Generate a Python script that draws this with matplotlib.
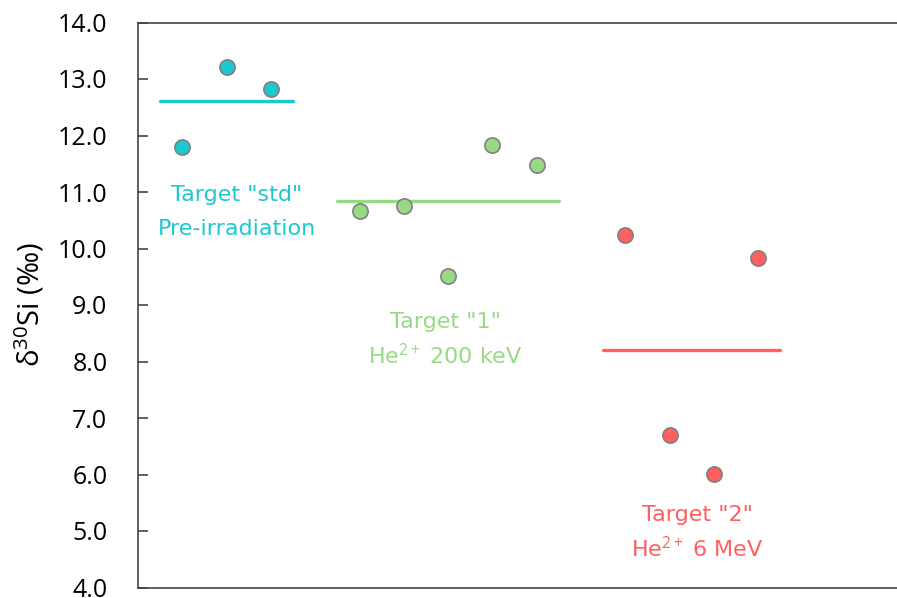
import numpy as np
import matplotlib.pyplot as plt

plt.rcParams["mathtext.fontset"] = "custom"
plt.rcParams["mathtext.rm"] = "Open Sans"
plt.rcParams["mathtext.it"] = "Open Sans:italic"

# delta30Si values per target (permil)
std_vals = [11.80, 13.21, 12.82]
t1_vals = [10.66, 10.75, 9.51, 11.83, 11.48]
t2_vals = [10.24, 6.70, 6.01, 9.83]

groups = [std_vals, t1_vals, t2_vals]
colors = ["#1ec8d2", "#98d985", "#ff5f5f"]
labels = ['Target "std"\nPre-irradiation',
          'Target "1"\nHe$^{2+}$ 200 keV',
          'Target "2"\nHe$^{2+}$ 6 MeV']
label_pos = [(2.23, 10.65), (6.93, 8.38), (12.62, 4.96)]
spacing = [1.85, 1.5, 1.5]

fig = plt.figure(figsize=(8.97, 5.98), dpi=100)
ax = fig.add_axes([138 / 897, 10.5 / 598, 1 - 138 / 897, 565 / 598])

start = 1
for vals, col, lab, (tx, ty), ls in zip(groups, colors, labels, label_pos, spacing):
    xs = np.arange(start, start + len(vals))
    ax.scatter(xs, vals, s=120, color=col, edgecolor="#808080", linewidth=1.2, zorder=3)
    ax.plot([xs[0] - 0.5, xs[-1] + 0.5], [np.mean(vals)] * 2, color=col, lw=2.4,
            solid_capstyle="round", zorder=2)
    ax.text(tx, ty, lab, color=col, ha="center", va="center", fontsize=16,
            linespacing=ls)
    start += len(vals) + 1

ax.set_xlim(0, 17.13)
ax.set_ylim(4, 14)
ax.set_yticks(np.arange(4, 14.1, 1))
ax.set_yticklabels([f"{v:.1f}" for v in np.arange(4, 14.1, 1)], family="Open Sans",
                   fontsize=18)
ax.set_xticks([])
ax.tick_params(axis="y", direction="in", length=7, width=1.2, color="#444444", pad=22)
for s in ["left", "top", "bottom"]:
    ax.spines[s].set_color("#444444")
    ax.spines[s].set_linewidth(1.2)
ax.spines["right"].set_visible(False)
ax.set_ylabel("δ$^{30}$Si (‰)", family="Open Sans", fontsize=21, labelpad=8)

fig.savefig("out.png", dpi=100)
